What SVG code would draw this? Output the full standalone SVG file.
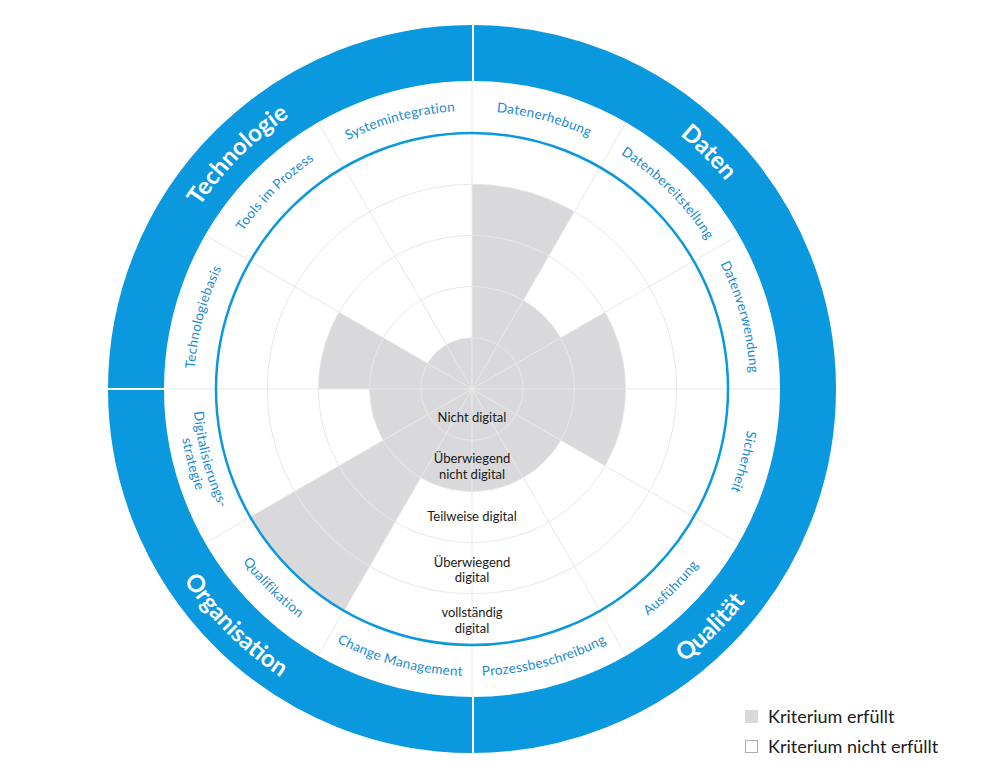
<svg xmlns="http://www.w3.org/2000/svg" xmlns:xlink="http://www.w3.org/1999/xlink" width="998" height="783" viewBox="0 0 998 783">
<style>
.fill{fill:#d9d9db}
.grid{stroke:#e8e8e8;stroke-width:1;fill:none}
.lbl{font-family:Lato,"Open Sans","Liberation Sans",sans-serif;font-size:13.5px;letter-spacing:0.3px;fill:#1a8bd0;text-anchor:middle}
.cat{font-family:Lato,"Open Sans","Liberation Sans",sans-serif;font-size:24px;font-weight:bold;fill:#fff;text-anchor:middle}
.ctr{font-family:Lato,"Open Sans","Liberation Sans",sans-serif;font-size:13px;fill:#1a1a1a;text-anchor:middle}
.leg{font-family:Lato,"Open Sans","Liberation Sans",sans-serif;font-size:18px;fill:#1a1a1a}
</style>
<defs>
<path id="cw278" d="M472,111 A278,278 0 1 1 472,667 A278,278 0 1 1 472,111"/>
<path id="ccw287" d="M472,102 A287,287 0 1 0 472,676 A287,287 0 1 0 472,102"/>
<path id="ccw279" d="M472,110 A279,279 0 1 0 472,668 A279,279 0 1 0 472,110"/>
<path id="ccw294" d="M472,95 A294,294 0 1 0 472,683 A294,294 0 1 0 472,95"/>
<path id="cw328" d="M472,61 A328,328 0 1 1 472,717 A328,328 0 1 1 472,61"/>
<path id="ccw346" d="M472,43 A346,346 0 1 0 472,735 A346,346 0 1 0 472,43"/>
</defs>
<rect width="998" height="783" fill="#fff"/>
<g id="fills">
<circle class="fill" cx="472" cy="389" r="51.2"/>
<path class="fill" d="M472,389 L472,184.2 A204.8,204.8 0 0 1 574.4,211.6 Z"/>
<path class="fill" d="M472,389 L523.2,300.3 A102.4,102.4 0 0 1 560.7,337.8 Z"/>
<path class="fill" d="M472,389 L605,312.2 A153.6,153.6 0 0 1 605,465.8 Z"/>
<path class="fill" d="M472,389 L560.7,440.2 A102.4,102.4 0 0 1 420.8,477.7 Z"/>
<path class="fill" d="M472,389 L344,610.7 A256,256 0 0 1 250.3,517 Z"/>
<path class="fill" d="M472,389 L383.3,440.2 A102.4,102.4 0 0 1 369.6,389 Z"/>
<path class="fill" d="M472,389 L318.4,389 A153.6,153.6 0 0 1 339,312.2 Z"/>
</g>
<g id="grid" class="grid">
<circle cx="472" cy="389" r="51.2"/>
<circle cx="472" cy="389" r="102.4"/>
<circle cx="472" cy="389" r="153.6"/>
<circle cx="472" cy="389" r="204.8"/>
<line x1="472" y1="81" x2="472" y2="697"/>
<line x1="626" y1="122.3" x2="318" y2="655.7"/>
<line x1="738.7" y1="235" x2="205.3" y2="543"/>
<line x1="780" y1="389" x2="164" y2="389"/>
<line x1="738.7" y1="543" x2="205.3" y2="235"/>
<line x1="626" y1="655.7" x2="318" y2="122.3"/>
</g>
<g id="rings">
<circle cx="472" cy="389" r="256" fill="none" stroke="#0a98de" stroke-width="2.5"/>
<circle cx="472" cy="389" r="336" fill="none" stroke="#0a98de" stroke-width="56"/>
<line x1="473" y1="20" x2="473" y2="82" stroke="#fff" stroke-width="2"/>
<line x1="473" y1="696" x2="473" y2="758" stroke="#fff" stroke-width="2"/>
<line x1="105" y1="389" x2="166" y2="389" stroke="#fff" stroke-width="2"/>
</g>
<g id="categories">
<text class="cat"><textPath href="#cw328" xlink:href="#cw328" startOffset="87.5%">Technologie</textPath></text>
<text class="cat"><textPath href="#cw328" xlink:href="#cw328" startOffset="12.5%">Daten</textPath></text>
<text class="cat"><textPath href="#ccw346" xlink:href="#ccw346" startOffset="62.5%">Qualität</textPath></text>
<text class="cat"><textPath href="#ccw346" xlink:href="#ccw346" startOffset="37.5%">Organisation</textPath></text>
</g>
<g id="criteria">
<text class="lbl"><textPath href="#cw278" xlink:href="#cw278" startOffset="4.17%">Datenerhebung</textPath></text>
<text class="lbl"><textPath href="#cw278" xlink:href="#cw278" startOffset="12.5%">Datenbereitstellung</textPath></text>
<text class="lbl"><textPath href="#cw278" xlink:href="#cw278" startOffset="20.83%">Datenverwendung</textPath></text>
<text class="lbl"><textPath href="#cw278" xlink:href="#cw278" startOffset="29.17%">Sicherheit</textPath></text>
<text class="lbl"><textPath href="#ccw287" xlink:href="#ccw287" startOffset="62.5%">Ausführung</textPath></text>
<text class="lbl"><textPath href="#ccw287" xlink:href="#ccw287" startOffset="54.17%">Prozessbeschreibung</textPath></text>
<text class="lbl"><textPath href="#ccw287" xlink:href="#ccw287" startOffset="45.83%">Change Management</textPath></text>
<text class="lbl"><textPath href="#ccw287" xlink:href="#ccw287" startOffset="37.5%">Qualifikation</textPath></text>
<text class="lbl"><textPath href="#ccw279" xlink:href="#ccw279" startOffset="29.17%">Digitalisierungs-</textPath></text>
<text class="lbl"><textPath href="#ccw294" xlink:href="#ccw294" startOffset="29.17%">strategie</textPath></text>
<text class="lbl"><textPath href="#cw278" xlink:href="#cw278" startOffset="79.17%">Technologiebasis</textPath></text>
<text class="lbl"><textPath href="#cw278" xlink:href="#cw278" startOffset="87.5%">Tools im Prozess</textPath></text>
<text class="lbl"><textPath href="#cw278" xlink:href="#cw278" startOffset="95.83%">Systemintegration</textPath></text>
</g>
<g id="levels">
<text class="ctr" x="472" y="422">Nicht digital</text>
<text class="ctr" x="472" y="463">Überwiegend</text>
<text class="ctr" x="472" y="479">nicht digital</text>
<text class="ctr" x="472" y="521">Teilweise digital</text>
<text class="ctr" x="472" y="567">Überwiegend</text>
<text class="ctr" x="472" y="582">digital</text>
<text class="ctr" x="472" y="617">vollständig</text>
<text class="ctr" x="472" y="633">digital</text>
</g>
<g id="legend">
<rect x="745" y="710" width="13" height="13" fill="#d9d9db"/>
<text class="leg" x="768" y="723">Kriterium erfüllt</text>
<rect x="745.5" y="740.5" width="12" height="12" fill="#fff" stroke="#aaa"/>
<text class="leg" x="768" y="753">Kriterium nicht erfüllt</text>
</g>
</svg>
